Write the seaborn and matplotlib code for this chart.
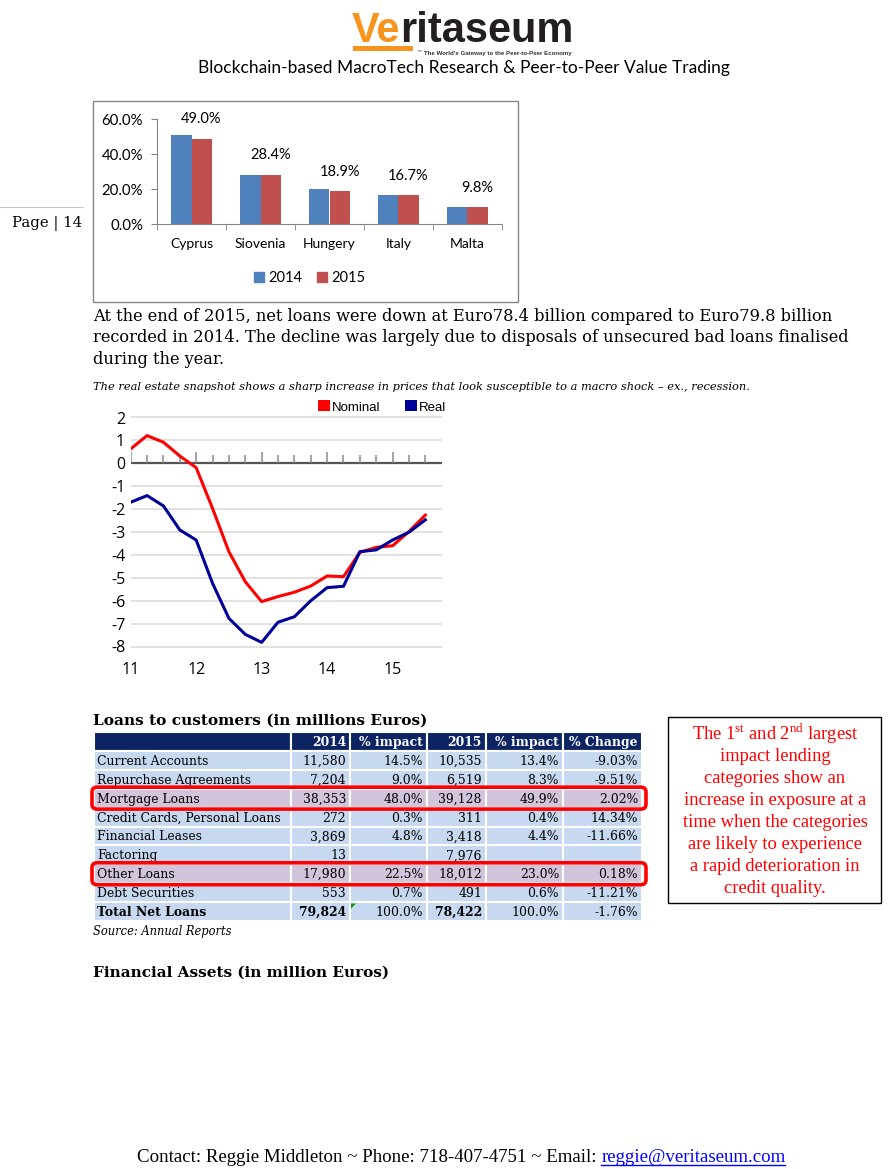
import pandas as pd
import matplotlib.pyplot as plt
import seaborn as sns
from matplotlib.patches import Rectangle, FancyBboxPatch, Patch, Polygon

W, H = 895, 1169

# --- dados do grafico de barras ---
countries = ['Cyprus', 'Siovenia', 'Hungery', 'Italy', 'Malta']
share_2014 = [51.0, 28.4, 20.0, 16.7, 9.8]
share_2015 = [49.0, 28.4, 18.9, 16.7, 9.8]

# --- dados do grafico de linhas (trimestres) ---
quarters = [11.0, 11.25, 11.5, 11.75, 12.0, 12.25, 12.5, 12.75, 13.0, 13.25,
            13.5, 13.75, 14.0, 14.25, 14.5, 14.75, 15.0, 15.25, 15.5]
nominal = [0.63, 1.21, 0.92, 0.32, -0.19, -1.97, -3.86, -5.17, -6.04, -5.82,
           -5.63, -5.36, -4.92, -4.95, -3.89, -3.67, -3.60, -2.98, -2.26]
real = [-1.70, -1.41, -1.86, -2.91, -3.35, -5.24, -6.77, -7.47, -7.82, -6.94,
        -6.70, -6.00, -5.43, -5.37, -3.86, -3.78, -3.35, -3.01, -2.47]
year_ticks = [11, 12, 13, 14, 15]

# --- dados da tabela ---
row_labels = ['Current Accounts', 'Repurchase Agreements', 'Mortgage Loans',
              'Credit Cards, Personal Loans', 'Financial Leases', 'Factoring',
              'Other Loans', 'Debt Securities', 'Total Net Loans']
loans_2014 = [11580, 7204, 38353, 272, 3869, 13, 17980, 553, 79824]
impact_2014 = [14.5, 9.0, 48.0, 0.3, 4.8, None, 22.5, 0.7, 100.0]
loans_2015 = [10535, 6519, 39128, 311, 3418, 7976, 18012, 491, 78422]
impact_2015 = [13.4, 8.3, 49.9, 0.4, 4.4, None, 23.0, 0.6, 100.0]
pct_change = [-9.03, -9.51, 2.02, 14.34, -11.66, None, 0.18, -11.21, -1.76]
header = ['', '2014', '% impact', '2015', '% impact', '% Change']
highlight_rows = ['Mortgage Loans', 'Other Loans']

BLUE, RED = '#4F81BD', '#C0504D'
NAVY, CELL, PINK = '#0D2463', '#C6D9F0', '#D2C4DA'
SERIF = 'DejaVu Serif'
LOGO_FONT = ['Liberation Sans Narrow', 'Liberation Sans']

plt.rcParams['mathtext.fontset'] = 'custom'
plt.rcParams['mathtext.rm'] = 'Liberation Serif'

fig = plt.figure(figsize=(8.95, 11.69), dpi=100)
page = fig.add_axes([0, 0, 1, 1])
page.set_xlim(0, W)
page.set_ylim(H, 0)
page.axis('off')
renderer = fig.canvas.get_renderer()


def px_box(l, t, r, b):
    return [l / W, 1 - b / H, (r - l) / W, (b - t) / H]


def text_width(t):
    return t.get_window_extent(renderer).width


def fit_text(x, y, s, width, **kw):
    # ajusta o tamanho da fonte para ocupar a largura pedida (em pixels)
    t = page.text(x, y, s, fontsize=12, va='baseline', **kw)
    t.set_fontsize(12 * width / text_width(t))
    return t


# cabecalho / logo
logo = fit_text(352, 42, 'Veritaseum', 221, weight='bold', family=LOGO_FONT)
fs_logo = logo.get_fontsize()
logo.remove()
ve = page.text(352, 42, 'Ve', fontsize=fs_logo, weight='bold', color='#F7941D',
               va='baseline', family=LOGO_FONT)
x_ve = 352 + text_width(ve)
page.text(x_ve, 42, 'ritaseum', fontsize=fs_logo, weight='bold', color='#231F20',
          va='baseline', family=LOGO_FONT)
page.add_patch(Rectangle((353, 46), 60, 5, color='#F7941D', lw=0))
page.text(416, 54, '™', fontsize=4, color='#333333', va='center')
fit_text(424, 55, "The World's Gateway to the Peer-to-Peer Economy", 146,
         family='Liberation Sans', weight='bold', color='#333333')
fit_text(198, 73, 'Blockchain-based MacroTech Research & Peer-to-Peer Value Trading', 529,
         family='Lato', color='black')

# Page | 14
page.plot([0, 83], [207, 207], color='#c8c8c8', lw=0.8)
fit_text(12, 227, 'Page | 14', 70, family=SERIF)

# --- grafico de barras ---
page.add_patch(Rectangle((93, 101), 425, 201, fill=False, ec='#868686', lw=1))
axb = fig.add_axes(px_box(157, 119.3, 502, 224.3))
df_bar = pd.DataFrame({'country': countries * 2,
                       'year': ['2014'] * len(countries) + ['2015'] * len(countries),
                       'share': share_2014 + share_2015})
sns.barplot(data=df_bar, x='country', y='share', hue='year', palette=[BLUE, RED],
            width=0.58, saturation=1, ax=axb, legend=False)
axb.set_xlim(-0.5, len(countries) - 0.5)
axb.set_ylim(0, 60)
axb.set_yticks([0, 20, 40, 60], [f'{v:.1f}%' for v in [0, 20, 40, 60]])
axb.set_xticks(range(len(countries)), countries)
axb.set_xticks([i - 0.5 for i in range(len(countries) + 1)], minor=True)
axb.tick_params(axis='x', which='major', length=0, pad=10, labelsize=10)
axb.tick_params(axis='x', which='minor', length=4, color='#868686')
axb.tick_params(axis='y', length=4, color='#868686', labelsize=10.8, pad=6)
for lab in axb.get_xticklabels() + axb.get_yticklabels():
    lab.set_family('Lato')
axb.set_xlabel('')
axb.set_ylabel('')
for side in ['top', 'right']:
    axb.spines[side].set_visible(False)
for side in ['left', 'bottom']:
    axb.spines[side].set_color('#868686')
axb.patch.set_alpha(0)
axb.bar_label(axb.containers[1], labels=[f'{v:.1f}%' for v in share_2015],
              padding=9, fontsize=10.5, family='Lato')
axb.legend(handles=[Patch(color=BLUE, label='2014'), Patch(color=RED, label='2015')],
           loc='center', bbox_to_anchor=(310 / W, 1 - 278 / H), bbox_transform=fig.transFigure,
           ncol=2, frameon=False, handlelength=0.7, handleheight=0.7, handletextpad=0.3,
           columnspacing=1.0, prop={'family': 'Lato', 'size': 10.5})

# texto do paragrafo
p1 = fit_text(93, 321, 'At the end of 2015, net loans were down at Euro78.4 billion compared to Euro79.8 billion',
              736, family=SERIF)
fs_par = p1.get_fontsize()
page.text(93, 342.5, 'recorded in 2014. The decline was largely due to disposals of unsecured bad loans finalised',
          fontsize=fs_par, family=SERIF, va='baseline')
page.text(93, 363.5, 'during the year.', fontsize=fs_par, family=SERIF, va='baseline')
fit_text(93, 390, 'The real estate snapshot shows a sharp increase in prices that look susceptible '
         'to a macro shock \u2013 ex., recession.', 655, family=SERIF, style='italic')

# --- grafico de linhas ---
axl = fig.add_axes(px_box(130.7, 406.05, 441.7, 657.95))
df_line = pd.DataFrame({'period': quarters * 2,
                        'value': nominal + real,
                        'series': ['Nominal'] * len(quarters) + ['Real'] * len(quarters)})
axl.set_yticks(range(-8, 3))
axl.grid(axis='y', color='#dedede', lw=1.3)
axl.set_axisbelow(True)
axl.axhline(0, color='#555555', lw=1.6, zorder=2)
axl.vlines(quarters, 0, [0.48 if q in year_ticks else 0.36 for q in quarters],
           color='#8a8a8a', lw=1.1, zorder=2)
sns.lineplot(data=df_line, x='period', y='value', hue='series',
             palette={'Nominal': '#FF0000', 'Real': '#000099'}, lw=2.2,
             ax=axl, legend=False, zorder=3)
axl.set_xlim(11, 15.75)
axl.set_ylim(-8.5, 2.5)
axl.set_xticks(year_ticks, [str(y) for y in year_ticks])
axl.set_yticks(range(-8, 3), [str(v) for v in range(-8, 3)])
axl.tick_params(length=0, labelsize=11.5)
axl.tick_params(axis='y', pad=4)
axl.tick_params(axis='x', pad=3)
for lab in axl.get_xticklabels() + axl.get_yticklabels():
    lab.set_family('Open Sans')
axl.set_xlabel('')
axl.set_ylabel('')
for s in axl.spines.values():
    s.set_visible(False)
axl.patch.set_alpha(0)
axl.legend(handles=[Patch(fc='#FF0000', label='Nominal'), Patch(fc='#000099', label='Real')],
           loc='center left', bbox_to_anchor=(318 / W, 1 - 407 / H), bbox_transform=fig.transFigure,
           ncol=2, frameon=False, handlelength=0.9, handleheight=0.9, handletextpad=0.15,
           columnspacing=1.9, borderpad=0, borderaxespad=0,
           prop={'family': 'Liberation Sans', 'size': 9.5})

# --- tabela ---
fit_text(93, 725, 'Loans to customers (in millions Euros)', 335, family=SERIF, weight='bold')
col_edges = [94, 291, 350, 427, 486, 563, 642]
row_top, row_h = 732, 18.9
probe = page.text(0, 0, 'Credit Cards, Personal Loans', fontsize=10, family=SERIF)
fs_tab = 10 * 184 / text_width(probe)
probe.remove()


def fmt_num(v):
    return '' if v is None else f'{v:,}'


def fmt_pct(v, nd):
    return '' if v is None else f'{v:.{nd}f}%'


table_rows = [header]
for i, lab in enumerate(row_labels):
    table_rows.append([lab, fmt_num(loans_2014[i]), fmt_pct(impact_2014[i], 1),
                       fmt_num(loans_2015[i]), fmt_pct(impact_2015[i], 1),
                       fmt_pct(pct_change[i], 2)])

for r, cells in enumerate(table_rows):
    y0 = row_top + r * row_h
    if r == 0:
        fill = NAVY
    elif cells[0] in highlight_rows:
        fill = PINK
    else:
        fill = CELL
    is_total = cells[0] == 'Total Net Loans'
    for c, txt in enumerate(cells):
        x0, x1 = col_edges[c], col_edges[c + 1]
        page.add_patch(Rectangle((x0, y0), x1 - x0, row_h, fc=fill, ec='white', lw=1.5))
        bold = r == 0 or (is_total and c in (0, 1, 3))
        kw = dict(fontsize=fs_tab, family=SERIF, va='baseline',
                  weight='bold' if bold else 'normal',
                  color='white' if r == 0 else 'black')
        if c == 0:
            page.text(x0 + 3, y0 + row_h / 2 + 4.5, txt, ha='left', **kw)
        else:
            page.text(x1 - 4, y0 + row_h / 2 + 4.5, txt, ha='right', **kw)

for lab in highlight_rows:
    r = row_labels.index(lab) + 1
    y0 = row_top + r * row_h
    page.add_patch(FancyBboxPatch((92, y0 - 1.5), 554, row_h + 3,
                                  boxstyle='round,pad=0,rounding_size=5',
                                  fill=False, ec='#FF0000', lw=2.6, zorder=5))
page.add_patch(Polygon([(351, 903.5), (356, 903.5), (351, 908.5)], color='#00A000', lw=0))

fit_text(93, 935, 'Source: Annual Reports', 139, family=SERIF, style='italic')

# caixa de comentario
page.add_patch(Rectangle((668, 717), 213, 186, fill=False, ec='black', lw=1))
box_lines = [r'The 1$^{\mathrm{st}}$ and 2$^{\mathrm{nd}}$ largest', 'impact lending',
             'categories show an', 'increase in exposure at a', 'time when the categories',
             'are likely to experience', 'a rapid deterioration in', 'credit quality.']
for i, line in enumerate(box_lines):
    page.text(775, 739.5 + i * 21.9, line, ha='center', va='baseline', color='#FF0000',
              fontsize=13.3, family='Liberation Serif')

fit_text(93, 977, 'Financial Assets (in million Euros)', 297, family=SERIF, weight='bold')

# rodape
foot = fit_text(137, 1162, 'Contact: Reggie Middleton ~ Phone: 718-407-4751 ~ Email: reggie@veritaseum.com',
                650, family='Liberation Serif')
fs_foot = foot.get_fontsize()
foot.remove()
f1 = page.text(137, 1162, 'Contact: Reggie Middleton ~ Phone: 718-407-4751 ~ Email: ',
               fontsize=fs_foot, family='Liberation Serif', va='baseline')
x_mail = 137 + text_width(f1)
f2 = page.text(x_mail, 1162, 'reggie@veritaseum.com', fontsize=fs_foot,
               family='Liberation Serif', color='#0000FF', va='baseline')
page.plot([x_mail, x_mail + text_width(f2)], [1164.5, 1164.5], color='#0000FF', lw=1)

fig.savefig('out.png', dpi=100)
